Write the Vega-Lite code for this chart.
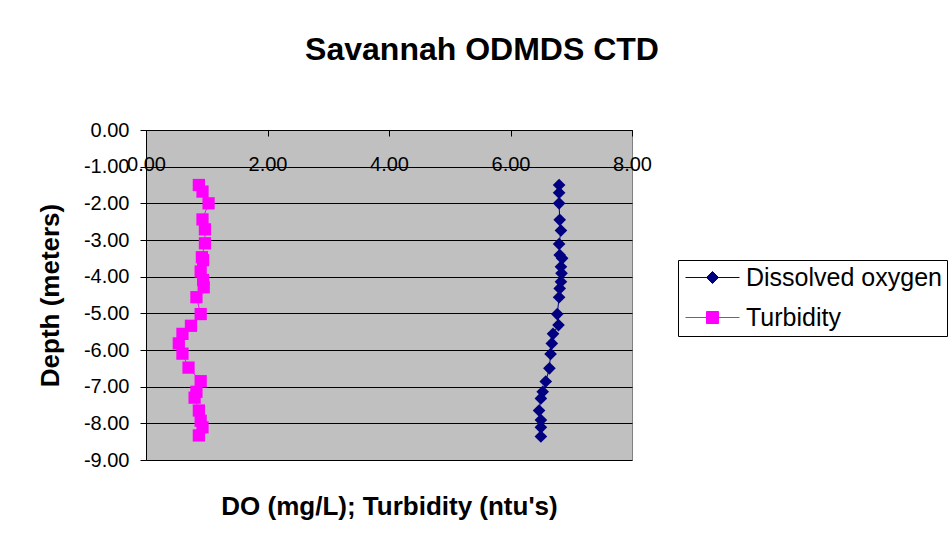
{
  "$schema": "https://vega.github.io/schema/vega-lite/v6.json",
  "width": 486,
  "height": 330,
  "autosize": {"type": "none"},
  "padding": {"left": 146, "top": 130, "right": 319, "bottom": 82},
  "background": "white",
  "title": {
    "text": "Savannah ODMDS CTD",
    "font": "Liberation Sans",
    "fontSize": 32,
    "fontWeight": "bold",
    "color": "black",
    "anchor": "middle",
    "dx": 93,
    "offset": 53
  },
  "data": {
    "values": [
      {"series": "Dissolved oxygen", "depth": -1.50, "value": 6.80},
      {"series": "Dissolved oxygen", "depth": -1.71, "value": 6.80},
      {"series": "Dissolved oxygen", "depth": -2.00, "value": 6.80},
      {"series": "Dissolved oxygen", "depth": -2.45, "value": 6.81},
      {"series": "Dissolved oxygen", "depth": -2.74, "value": 6.83},
      {"series": "Dissolved oxygen", "depth": -3.11, "value": 6.80},
      {"series": "Dissolved oxygen", "depth": -3.41, "value": 6.81},
      {"series": "Dissolved oxygen", "depth": -3.50, "value": 6.85},
      {"series": "Dissolved oxygen", "depth": -3.73, "value": 6.83},
      {"series": "Dissolved oxygen", "depth": -3.91, "value": 6.84},
      {"series": "Dissolved oxygen", "depth": -4.14, "value": 6.83},
      {"series": "Dissolved oxygen", "depth": -4.32, "value": 6.81},
      {"series": "Dissolved oxygen", "depth": -4.56, "value": 6.80},
      {"series": "Dissolved oxygen", "depth": -5.02, "value": 6.77},
      {"series": "Dissolved oxygen", "depth": -5.32, "value": 6.79},
      {"series": "Dissolved oxygen", "depth": -5.56, "value": 6.70},
      {"series": "Dissolved oxygen", "depth": -5.82, "value": 6.68},
      {"series": "Dissolved oxygen", "depth": -6.11, "value": 6.66},
      {"series": "Dissolved oxygen", "depth": -6.50, "value": 6.64},
      {"series": "Dissolved oxygen", "depth": -6.86, "value": 6.58},
      {"series": "Dissolved oxygen", "depth": -7.14, "value": 6.53},
      {"series": "Dissolved oxygen", "depth": -7.32, "value": 6.50},
      {"series": "Dissolved oxygen", "depth": -7.65, "value": 6.47},
      {"series": "Dissolved oxygen", "depth": -7.91, "value": 6.50},
      {"series": "Dissolved oxygen", "depth": -8.11, "value": 6.50},
      {"series": "Dissolved oxygen", "depth": -8.36, "value": 6.50},
      {"series": "Turbidity", "depth": -1.50, "value": 0.87},
      {"series": "Turbidity", "depth": -1.68, "value": 0.93},
      {"series": "Turbidity", "depth": -2.00, "value": 1.03},
      {"series": "Turbidity", "depth": -2.44, "value": 0.93},
      {"series": "Turbidity", "depth": -2.71, "value": 0.97},
      {"series": "Turbidity", "depth": -3.09, "value": 0.97},
      {"series": "Turbidity", "depth": -3.47, "value": 0.92},
      {"series": "Turbidity", "depth": -3.55, "value": 0.94},
      {"series": "Turbidity", "depth": -3.86, "value": 0.90},
      {"series": "Turbidity", "depth": -4.09, "value": 0.94},
      {"series": "Turbidity", "depth": -4.29, "value": 0.95},
      {"series": "Turbidity", "depth": -4.56, "value": 0.83},
      {"series": "Turbidity", "depth": -5.02, "value": 0.90},
      {"series": "Turbidity", "depth": -5.34, "value": 0.74},
      {"series": "Turbidity", "depth": -5.56, "value": 0.60},
      {"series": "Turbidity", "depth": -5.82, "value": 0.54},
      {"series": "Turbidity", "depth": -6.10, "value": 0.60},
      {"series": "Turbidity", "depth": -6.48, "value": 0.70},
      {"series": "Turbidity", "depth": -6.85, "value": 0.90},
      {"series": "Turbidity", "depth": -7.14, "value": 0.83},
      {"series": "Turbidity", "depth": -7.30, "value": 0.80},
      {"series": "Turbidity", "depth": -7.65, "value": 0.87},
      {"series": "Turbidity", "depth": -7.93, "value": 0.90},
      {"series": "Turbidity", "depth": -8.11, "value": 0.93},
      {"series": "Turbidity", "depth": -8.33, "value": 0.87}
    ]
  },
  "encoding": {
    "x": {
      "field": "value",
      "type": "quantitative",
      "scale": {"domain": [0, 8], "nice": false, "zero": false},
      "axis": {
        "orient": "top",
        "values": [0, 2, 4, 6, 8],
        "format": ".2f",
        "grid": false,
        "tickSize": -6,
        "tickColor": "black",
        "domainColor": "black",
        "labelPadding": -34,
        "labelBaseline": "alphabetic",
        "labelFontSize": 20,
        "labelFont": "Liberation Sans",
        "labelColor": "black",
        "labelFlush": false,
        "labelOverlap": false,
        "title": "DO (mg/L); Turbidity (ntu's)",
        "titleFont": "Liberation Sans",
        "titleFontSize": 26,
        "titleFontWeight": "bold",
        "titleColor": "black",
        "titleY": 384,
        "titleBaseline": "alphabetic"
      }
    },
    "y": {
      "field": "depth",
      "type": "quantitative",
      "scale": {"domain": [-9, 0], "nice": false, "zero": false},
      "axis": {
        "values": [-9, -8, -7, -6, -5, -4, -3, -2, -1, 0],
        "labelExpr": "(datum.value < 0 ? '-' : '') + format(abs(datum.value), '.2f')",
        "grid": true,
        "gridColor": "black",
        "gridWidth": 1,
        "gridOpacity": 1,
        "tickSize": 6,
        "tickColor": "black",
        "domainColor": "black",
        "labelPadding": 11,
        "labelFontSize": 20,
        "labelFont": "Liberation Sans",
        "labelColor": "black",
        "labelFlush": false,
        "labelOverlap": false,
        "title": "Depth (meters)",
        "titleFont": "Liberation Sans",
        "titleFontSize": 26,
        "titleFontWeight": "bold",
        "titleColor": "black",
        "titlePadding": 20
      }
    }
  },
  "layer": [
    {
      "mark": {"type": "line", "strokeWidth": 1},
      "encoding": {
        "color": {
          "field": "series",
          "type": "nominal",
          "scale": {"domain": ["Dissolved oxygen", "Turbidity"], "range": ["#000080", "#FF00FF"]},
          "legend": {
            "title": null,
            "orient": "none",
            "legendX": 532,
            "legendY": 130,
            "strokeColor": "black",
            "fillColor": "white",
            "padding": 5,
            "rowPadding": 14,
            "symbolSize": 400,
            "symbolType": "M-2.7,0H2.7M-0.6,0L0,-0.6L0.6,0L0,0.6Z",
            "symbolOffset": 17,
            "labelOffset": 21,
            "labelFontSize": 25,
            "labelFont": "Liberation Sans",
            "labelColor": "black",
            "labelLimit": 400,
            "encode": {
              "symbols": {
                "update": {
                  "shape": {"signal": "datum.value === 'Turbidity' ? 'M-2.7,0H2.7M-0.6,-0.6H0.6V0.6H-0.6Z' : 'M-2.7,0H2.7M-0.6,0L0,-0.6L0.6,0L0,0.6Z'"},
                  "fill": {"signal": "datum.value === 'Turbidity' ? '#FF00FF' : '#000080'"},
                  "stroke": {"signal": "datum.value === 'Turbidity' ? '#FF00FF' : '#000080'"},
                  "strokeWidth": {"value": 1},
                  "opacity": {"value": 1},
                  "fillOpacity": {"value": 1}
                }
              }
            }
          }
        },
        "order": {"field": "depth", "type": "quantitative", "sort": "descending"}
      }
    },
    {
      "transform": [{"filter": "datum.series === 'Dissolved oxygen'"}],
      "mark": {"type": "point", "filled": true, "size": 160, "opacity": 1, "shape": "diamond"},
      "encoding": {
        "color": {"field": "series", "type": "nominal", "legend": null}
      }
    },
    {
      "transform": [{"filter": "datum.series === 'Turbidity'"}],
      "mark": {"type": "point", "filled": true, "size": 150, "opacity": 1, "shape": "square"},
      "encoding": {
        "color": {"field": "series", "type": "nominal", "legend": null}
      }
    }
  ],
  "config": {
    "view": {"fill": "#C0C0C0", "stroke": "#808080", "strokeWidth": 1}
  }
}
